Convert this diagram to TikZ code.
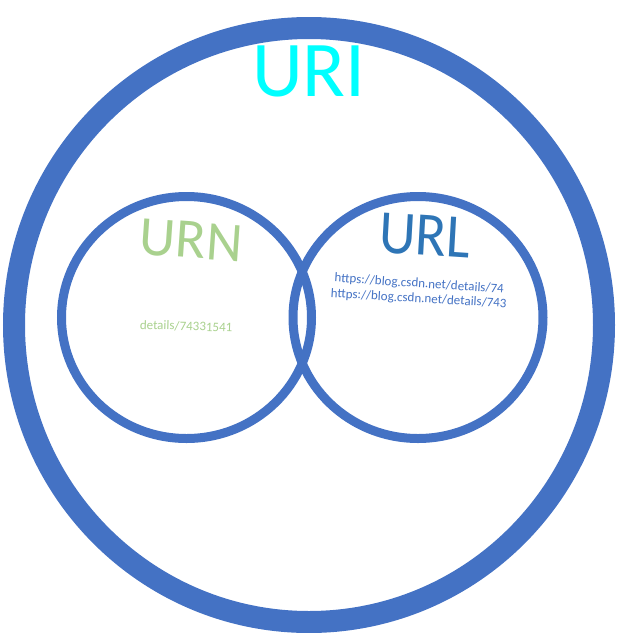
\documentclass[tikz,border=0pt]{standalone}
\usepackage{fontspec}
\setmainfont{Carlito}
\definecolor{ringblue}{HTML}{4472C4}
\definecolor{uricyan}{HTML}{00FFFF}
\definecolor{urngreen}{HTML}{A9D18E}
\definecolor{urlblue}{HTML}{2E75B6}
\tikzset{
  ring/.style={draw=ringblue},
  bigtext/.style={inner sep=0pt, anchor=base},
  smalltext/.style={inner sep=0pt, anchor=base, font=\fontsize{13}{17}\selectfont},
}
\begin{document}
\begin{tikzpicture}[x=1pt,y=-1pt]
\useasboundingbox (0,0) rectangle (618,633);
\draw[ring, line width=22pt] (309,325) ellipse [x radius=295, y radius=297];
\draw[ring, line width=9pt] (418,317.5) ellipse [x radius=125, y radius=121];
\draw[ring, line width=9pt] (186.5,317.5) ellipse [x radius=125, y radius=121];
\node[bigtext, text=uricyan, font=\fontsize{79}{79}\selectfont] (uri) at (309,96) {URI};
\node[bigtext, text=urngreen, font=\fontsize{56}{56}\selectfont, rotate=-4] (urn) at (190,258) {URN};
\node[bigtext, text=urlblue, font=\fontsize{62}{62}\selectfont, xscale=0.92, rotate=-3.5] (url) at (424,255.5) {URL};
\node[smalltext, text=ringblue, rotate=-3.8] (l1) at (419,287.5) {https://blog.csdn.net/details/74};
\node[smalltext, text=ringblue, rotate=-3.4] (l2) at (418.5,302.5) {https://blog.csdn.net/details/743};
\node[smalltext, text=urngreen, rotate=-1.8] (d1) at (186,330.5) {details/74331541};
\end{tikzpicture}
\end{document}
